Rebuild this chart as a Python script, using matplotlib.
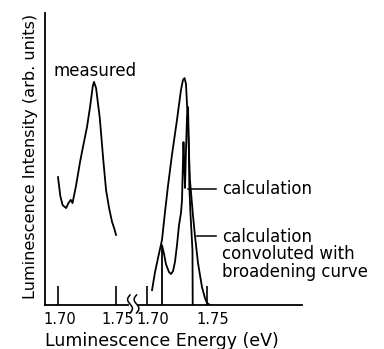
import matplotlib
matplotlib.use("Agg")
import matplotlib.pyplot as plt
import matplotlib.transforms as mtransforms
import numpy as np
from matplotlib.lines import Line2D

# measured spectrum (left panel)
meas_e = [1.700, 1.702, 1.704, 1.707, 1.709, 1.711, 1.7125, 1.7155, 1.719, 1.7215,
          1.725, 1.7276, 1.730, 1.731, 1.7328, 1.736, 1.739, 1.7414, 1.744, 1.7466,
          1.7483, 1.750]
meas_i = [43.8, 37.3, 34.2, 33.2, 34.9, 36.0, 34.9, 40.8, 49.0, 54.1,
          61.0, 67.8, 75.0, 76.4, 74.3, 64.0, 49.7, 39.4, 33.2, 28.4,
          26.4, 24.0]

# calculation convoluted with broadening curve (right panel)
conv_e = [1.7042, 1.7067, 1.7092, 1.7125, 1.715, 1.7175, 1.7208, 1.725, 1.7283, 1.730,
          1.7313, 1.7325, 1.7342, 1.7358, 1.7383, 1.740, 1.7425, 1.7458, 1.7483, 1.750,
          1.7525]
conv_i = [5.1, 11.3, 16.1, 22.3, 31.8, 40.8, 51.4, 63.4, 73.6, 77.1,
          77.7, 75.7, 61.6, 42.8, 30.8, 23.6, 14.4, 6.2, 2.4, 0.7,
          0.0]

# calculation (right panel)
calc_e = [1.7125, 1.7125, 1.7142, 1.7158, 1.7183, 1.720, 1.7217, 1.7233, 1.725, 1.7267,
          1.7283, 1.7292, 1.730, 1.7304, 1.7311, 1.7317, 1.7325, 1.7333, 1.7342, 1.7348,
          1.7353, 1.7363, 1.7379, 1.7381]
calc_i = [0.0, 20.5, 17.5, 14.0, 11.3, 10.6, 11.6, 14.7, 20.5, 27.4,
          31.5, 36.0, 49.7, 55.8, 47.9, 40.1, 53.1, 64.0, 67.8, 56.5,
          40.4, 30.8, 18.8, 0.0]

tick_vals = [1.70, 1.75]
tick_labels = ["1.70", "1.75"]

W, H = 384, 349
fig = plt.figure(figsize=(W / 100, H / 100), dpi=100)
plt.rcParams["font.family"] = "DejaVu Sans"


def px_box(x0, x1, y0, y1):
    # pixel box -> figure fraction [left, bottom, width, height]
    return [x0 / W, 1 - y1 / H, (x1 - x0) / W, (y1 - y0) / H]


def px_shift(dx, dy=0):
    return mtransforms.ScaledTranslation(dx / 100, dy / 100, fig.dpi_scale_trans)


ax1 = fig.add_axes(px_box(45, 128, 13, 305))
ax2 = fig.add_axes(px_box(138, 302, 13, 305))

lw = 1.3
ax1.plot(meas_e, meas_i, color="black", lw=lw)
ax2.plot(conv_e, conv_i, color="black", lw=lw)
ax2.plot(calc_e, calc_i, color="black", lw=lw)

ax1.set_xlim(1.6888, 1.7603)
ax2.set_xlim(1.6925, 1.8292)
for ax, shift in ((ax1, 2), (ax2, 6)):
    ax.set_ylim(0, 100)
    ax.set_yticks([])
    ax.set_xticks(tick_vals)
    ax.set_xticklabels(tick_labels, fontsize=10.5)
    ax.tick_params(axis="x", direction="in", length=14, width=1.2, pad=5)
    for lab in ax.get_xticklabels():
        lab.set_transform(lab.get_transform() + px_shift(shift))
    for side in ("top", "right"):
        ax.spines[side].set_visible(False)
    ax.spines["bottom"].set_linewidth(1.3)
ax1.spines["left"].set_linewidth(1.3)
ax2.spines["left"].set_visible(False)

# labels
ax1.text(1.6957, 80, "measured", fontsize=12, ha="left", va="center")

ax2.plot([1.7342, 1.7575], [39.7, 39.7], color="black", lw=1.1, clip_on=False)
ax2.plot([1.7417, 1.7575], [23.6, 23.6], color="black", lw=1.1, clip_on=False)
ax2.text(1.7625, 39.7, "calculation", fontsize=12, ha="left", va="center")
ax2.text(1.7625, 23.6, "calculation\nconvoluted with\nbroadening curve",
         fontsize=12, ha="left", va="top", linespacing=0.95,
         transform=ax2.transData + px_shift(0, 8))

fig.text(45 / W, 1 - 341 / H, "Luminescence Energy (eV)", fontsize=12.5,
         ha="left", va="center")
fig.text(31 / W, 1 - 156 / H, "Luminescence Intensity (arb. units)", fontsize=11.6,
         rotation=90, ha="center", va="center")

# axis break marks
t = np.linspace(-1, 1, 30)
for xc in (130, 136.5):
    xs = (xc + 2.4 * np.sin(np.pi * t)) / W
    ys = 1 - (304 + 9 * t) / H
    fig.add_artist(Line2D(xs, ys, color="black", lw=1.1, transform=fig.transFigure))

fig.savefig("out.png", dpi=100)
